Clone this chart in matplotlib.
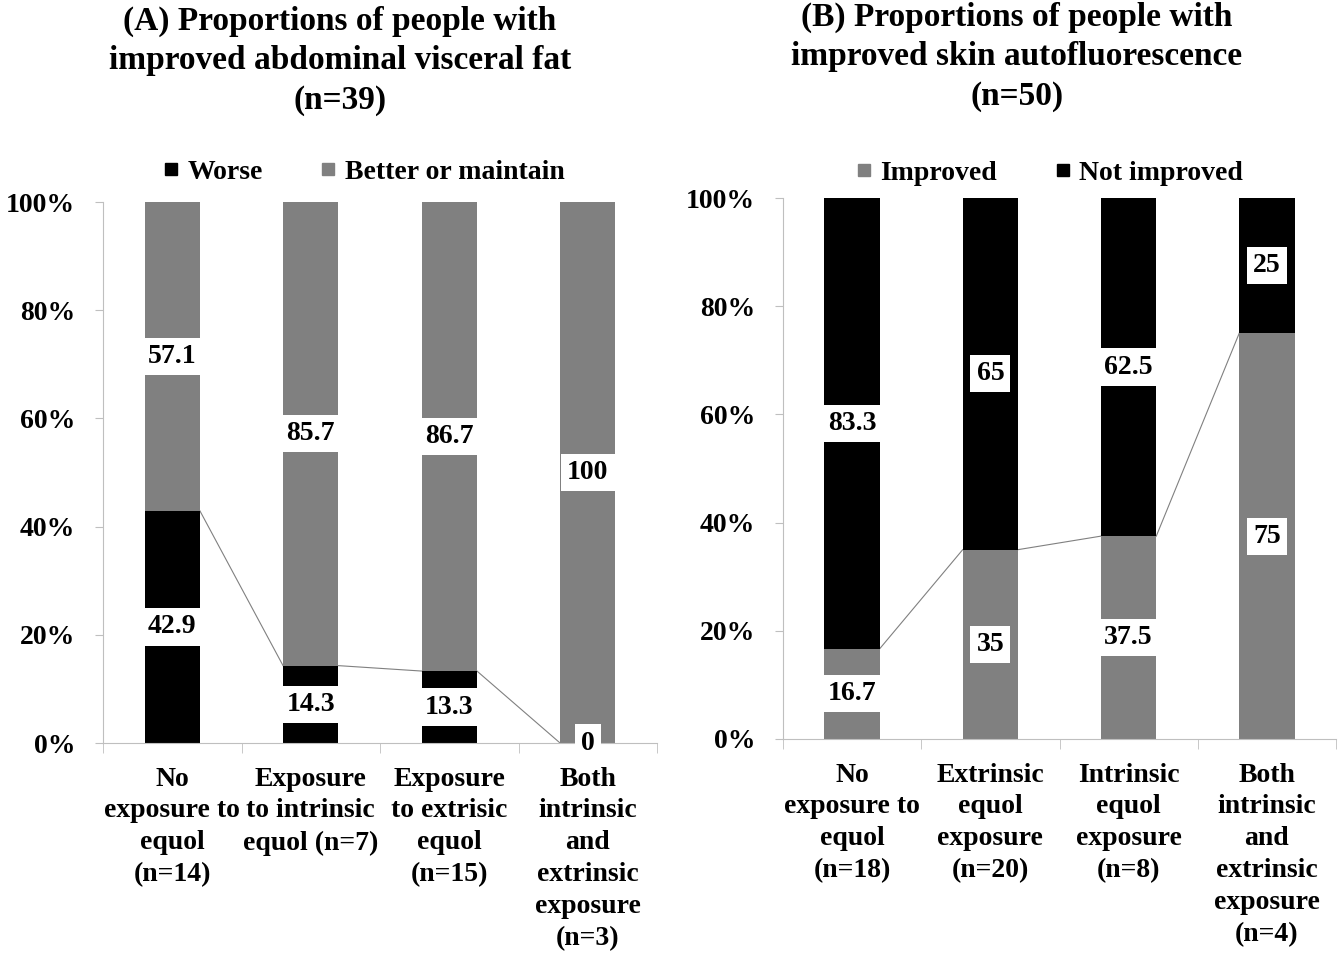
import matplotlib.pyplot as plt
from matplotlib.lines import Line2D

plt.rcParams['font.family'] = ['Liberation Serif', 'DejaVu Serif']
plt.rcParams['font.weight'] = 'bold'

# (A) abdominal visceral fat
cats_a = ['No\nexposure to\nequol\n(n=14)', 'Exposure\nto intrinsic\nequol (n=7)',
          'Exposure\nto extrisic\nequol\n(n=15)', 'Both\nintrinsic\nand\nextrinsic\nexposure\n(n=3)']
worse = [42.9, 14.3, 13.3, 0]
better = [57.1, 85.7, 86.7, 100]

# (B) skin autofluorescence
cats_b = ['No\nexposure to\nequol\n(n=18)', 'Extrinsic\nequol\nexposure\n(n=20)',
          'Intrinsic\nequol\nexposure\n(n=8)', 'Both\nintrinsic\nand\nextrinsic\nexposure\n(n=4)']
improved = [16.7, 35, 37.5, 75]
not_improved = [83.3, 65, 62.5, 25]

GRAY = '#808080'
AXC = '#bfbfbf'
FS = 20
W = 0.4

fig = plt.figure(figsize=(13.4, 9.55), dpi=100)


def px_axes(x0, x1, y0, y1):
    return fig.add_axes([x0 / 1340, 1 - y0 / 955, (x1 - x0) / 1340, (y0 - y1) / 955])


def label(ax, x, y, txt):
    ax.text(x, y, txt, ha='center', va='center', fontsize=FS, fontweight='bold',
            bbox=dict(boxstyle='square,pad=0.22', fc='white', ec='none'), zorder=5, clip_on=False)


def style(ax, cats):
    ax.set_xlim(-0.5, 3.5)
    ax.set_ylim(0, 100)
    for s in ['top', 'right']:
        ax.spines[s].set_visible(False)
    for s in ['left', 'bottom']:
        ax.spines[s].set_color(AXC)
    ax.set_yticks(range(0, 101, 20))
    ax.set_yticklabels([f'{v}%' for v in range(0, 101, 20)], fontsize=FS, fontweight='bold')
    ax.tick_params(axis='y', length=6, color=AXC, pad=14)
    ax.set_xticks(range(4))
    ax.set_xticklabels(cats, fontsize=FS, fontweight='bold', linespacing=1.36, va='top')
    ax.tick_params(axis='x', which='major', length=0, pad=17)
    ax.set_xticks([-0.5, 0.5, 1.5, 2.5, 3.5], minor=True)
    ax.tick_params(axis='x', which='minor', length=7, color=AXC)


def legend(ax, handles, xc, dy):
    ax.legend(handles=handles, loc='center', bbox_to_anchor=(xc, 1 + dy), ncol=2, frameon=False,
              prop={'size': FS, 'weight': 'bold'}, handlelength=0.5, handletextpad=0.35,
              columnspacing=2.1, borderaxespad=0)


x = list(range(4))

# ---- chart A
ax1 = px_axes(103, 657, 743, 202)
ax1.bar(x, worse, W, color='black', zorder=2)
ax1.bar(x, better, W, bottom=worse, color=GRAY, zorder=2)
for i in range(3):
    ax1.plot([i + W / 2, i + 1 - W / 2], [worse[i], worse[i + 1]], color=GRAY, lw=0.8, zorder=1)
for i in range(4):
    label(ax1, i, worse[i] / 2, f'{worse[i]:g}')
    label(ax1, i, worse[i] + better[i] / 2, f'{better[i]:g}')
style(ax1, cats_a)
legend(ax1, [Line2D([], [], ls='', marker='s', ms=8, color='black', label='Worse'),
             Line2D([], [], ls='', marker='s', ms=8, color=GRAY, label='Better or maintain')],
       (364 - 103) / 554, 30 / 541)

# ---- chart B
ax2 = px_axes(783, 1336, 739, 198)
ax2.bar(x, improved, W, color=GRAY, zorder=2)
ax2.bar(x, not_improved, W, bottom=improved, color='black', zorder=2)
for i in range(3):
    ax2.plot([i + W / 2, i + 1 - W / 2], [improved[i], improved[i + 1]], color=GRAY, lw=0.8, zorder=1)
for i in range(4):
    label(ax2, i, improved[i] / 2, f'{improved[i]:g}')
    label(ax2, i, improved[i] + not_improved[i] / 2, f'{not_improved[i]:g}')
style(ax2, cats_b)
legend(ax2, [Line2D([], [], ls='', marker='s', ms=8, color=GRAY, label='Improved'),
             Line2D([], [], ls='', marker='s', ms=8, color='black', label='Not improved')],
       (1050 - 783) / 553, 25 / 541)

fig.text(340 / 1340, 1 - 61 / 955,
         '(A) Proportions of people with\nimproved abdominal visceral fat\n(n=39)',
         ha='center', va='center', fontsize=24, fontweight='bold', linespacing=1.35)
fig.text(1017 / 1340, 1 - 57 / 955,
         '(B) Proportions of people with\nimproved skin autofluorescence\n(n=50)',
         ha='center', va='center', fontsize=24, fontweight='bold', linespacing=1.35)

fig.savefig('out.png', dpi=100)
